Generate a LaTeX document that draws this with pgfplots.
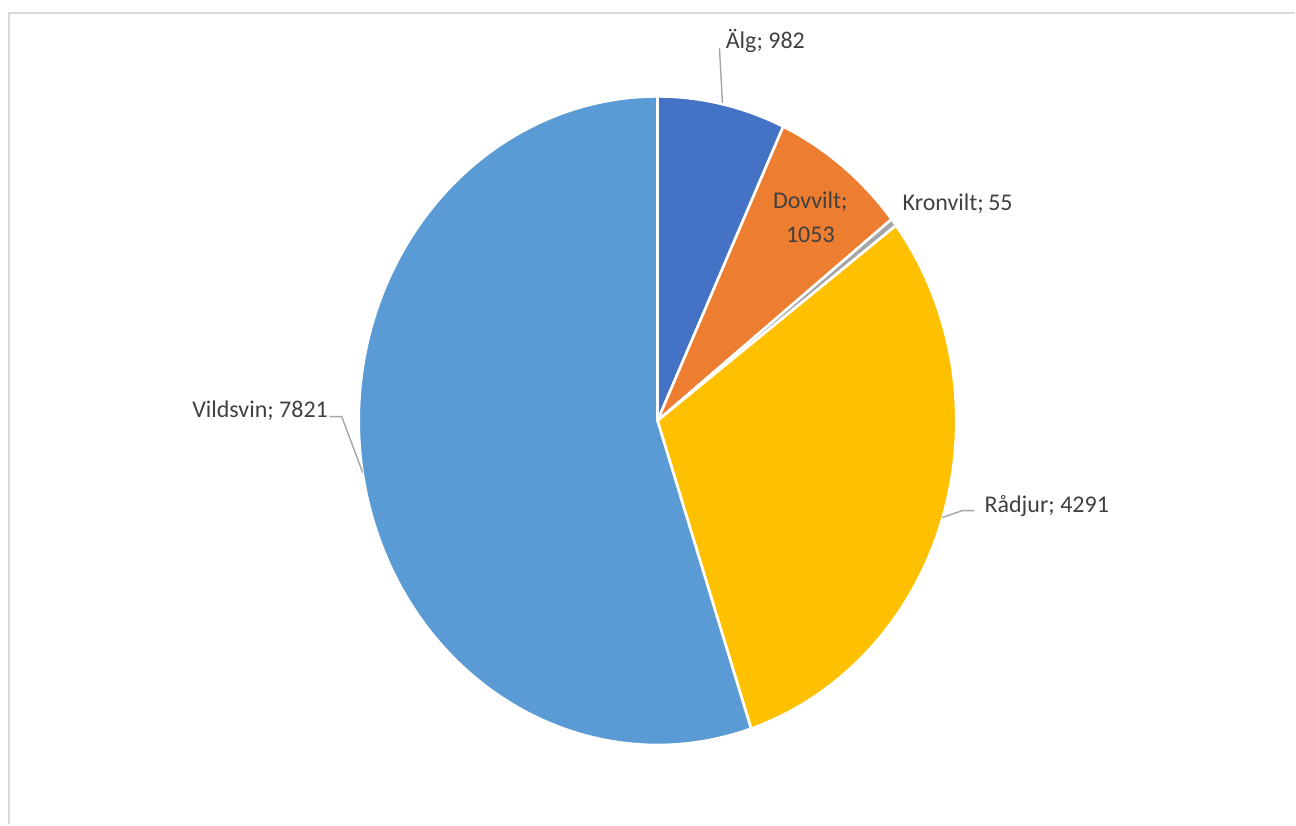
\documentclass[border=0pt]{standalone}
\usepackage{pgfplots}
\usepackage{pgfplotstable}
\usepackage{fontspec}
\setmainfont{Carlito}
\pgfplotsset{compat=1.18}
\definecolor{cAlg}{HTML}{4472C4}
\definecolor{cDov}{HTML}{ED7D31}
\definecolor{cKron}{HTML}{A5A5A5}
\definecolor{cRad}{HTML}{FFC000}
\definecolor{cVild}{HTML}{5B9BD5}
\definecolor{txt}{HTML}{404040}
\definecolor{lead}{HTML}{A6A6A6}
\definecolor{framec}{HTML}{D9D9D9}
\pgfplotstableread{
name value col
Alg 982 cAlg
Dovvilt 1053 cDov
Kronvilt 55 cKron
Radjur 4291 cRad
Vildsvin 7821 cVild
}\piedata
\begin{document}
\begin{tikzpicture}
\begin{axis}[scale only axis, width=648pt, height=412.5pt,
  xmin=0, xmax=1296, ymin=0, ymax=825, hide axis, clip=false]
\path (axis cs:0,0) rectangle (axis cs:1296,825);
\draw[framec, line width=1pt] (axis cs:9,0) -- (axis cs:9,812) -- (axis cs:1296,812);
\def\total{0}
\pgfplotsforeachungrouped \i in {0,1,2,3,4}{%
  \pgfplotstablegetelem{\i}{value}\of\piedata
  \pgfmathsetmacro\total{\total+\pgfplotsretval}%
}
\def\cum{0}
\pgfplotsforeachungrouped \i in {0,1,2,3,4}{%
  \pgfplotstablegetelem{\i}{value}\of\piedata
  \let\sliceval\pgfplotsretval
  \pgfplotstablegetelem{\i}{col}\of\piedata
  \let\slicecol\pgfplotsretval
  \pgfmathsetmacro\angA{90-(\cum/\total)*360}%
  \pgfmathsetmacro\cum{\cum+\sliceval}%
  \pgfmathsetmacro\angB{90-(\cum/\total)*360}%
  \pgfmathsetmacro\px{658+299*cos(\angA)}%
  \pgfmathsetmacro\py{404+324.5*sin(\angA)}%
  \edef\temp{\noexpand\fill[\slicecol, draw=white, line width=1.3pt, line join=round]
    (axis cs:658,404) -- (axis cs:\px,\py)
    arc[start angle=\angA, end angle=\angB, x radius=149.5pt, y radius=162.25pt] -- cycle;}%
  \temp
}
\tikzset{lbl/.style={txt, inner sep=0pt, font=\fontsize{12}{14.4}\selectfont}}
\draw[lead, line width=0.7pt] (axis cs:720,777) -- (axis cs:723,722);
\draw[lead, line width=0.7pt] (axis cs:975,314) -- (axis cs:963,314) -- (axis cs:943,307);
\draw[lead, line width=0.7pt] (axis cs:330,408) -- (axis cs:342,408) -- (axis cs:363,352);
\node[lbl, anchor=base west] at (axis cs:726,776) {Älg; 982};
\node[lbl, anchor=base] at (axis cs:811,616) {Dovvilt;};
\node[lbl, anchor=base] at (axis cs:811,582) {1053};
\node[lbl, anchor=base west] at (axis cs:903,614) {Kronvilt;\kern-0.5pt\ 55};
\node[lbl, anchor=base west] at (axis cs:985,312) {Rådjur; 4291};
\node[lbl, anchor=base west] at (axis cs:192,407) {Vildsvin; 7821};
\end{axis}
\end{tikzpicture}
\end{document}
